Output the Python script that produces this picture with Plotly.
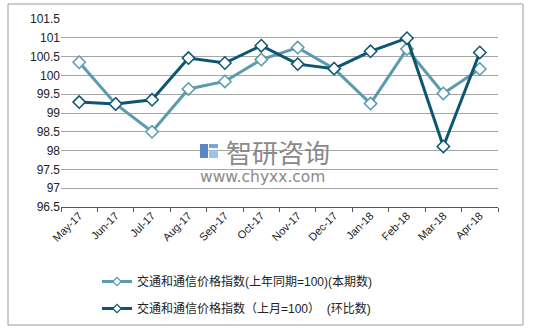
import plotly.graph_objects as go

months = ["May-17", "Jun-17", "Jul-17", "Aug-17", "Sep-17", "Oct-17",
          "Nov-17", "Dec-17", "Jan-18", "Feb-18", "Mar-18", "Apr-18"]
yoy_index = [100.35, 99.24, 98.50, 99.64, 99.84, 100.42,
             100.74, 100.18, 99.25, 100.70, 99.52, 100.17]
mom_index = [99.29, 99.24, 99.35, 100.46, 100.33, 100.79,
             100.30, 100.18, 100.64, 100.99, 98.11, 100.61]
yoy_name = "交通和通信价格指数(上年同期=100)(本期数)"
mom_name = "交通和通信价格指数（上月=100）  (环比数)"
y_ticks = [96.5, 97, 97.5, 98, 98.5, 99, 99.5, 100, 100.5, 101, 101.5]

LIGHT = "#5b9aaf"
DARK = "#0c5670"
FONT = "Liberation Sans, Noto Sans CJK SC, sans-serif"

fig = go.Figure()
for vals, name, color in [(yoy_index, yoy_name, LIGHT), (mom_index, mom_name, DARK)]:
    fig.add_trace(go.Scatter(
        x=months, y=vals, name=name, mode="lines+markers", showlegend=False,
        line=dict(color=color, width=3),
        marker=dict(symbol="diamond", size=9.5, color="white",
                    line=dict(color=color, width=1.5)),
    ))
    # legend entry with a smaller marker
    fig.add_trace(go.Scatter(
        x=[None], y=[None], name=name, mode="lines+markers", legendgroup=name,
        line=dict(color=color, width=3),
        marker=dict(symbol="diamond", size=6.5, color="white",
                    line=dict(color=color, width=1.2)),
    ))


def px_x(v):
    return (v - 61) / 437


def px_y(v):
    return (207 - v) / 188


# watermark
fig.add_annotation(text="智研咨询", xref="paper", yref="paper",
                   x=px_x(224), y=px_y(151), xanchor="left",
                   yanchor="middle", showarrow=False,
                   font=dict(family="Noto Sans CJK SC", size=26, color="#8a8a8a"))
fig.add_annotation(text="www.chyxx.com", xref="paper", yref="paper",
                   x=px_x(198), y=px_y(177), xanchor="left",
                   yanchor="middle", showarrow=False,
                   font=dict(family="DejaVu Sans", size=15.5, color="#8a8a8a"))

shapes = [
    # outer frame
    dict(type="rect", xref="paper", yref="paper",
         x0=px_x(8), x1=px_x(523), y0=px_y(325), y1=px_y(4),
         line=dict(color="#9a9a9a", width=1), fillcolor="rgba(0,0,0,0)"),
    # logo blocks
    dict(type="rect", xref="paper", yref="paper",
         x0=px_x(200), x1=px_x(208), y0=px_y(158), y1=px_y(144),
         line=dict(width=0), fillcolor="#5b86c4"),
    dict(type="rect", xref="paper", yref="paper",
         x0=px_x(209), x1=px_x(218), y0=px_y(158), y1=px_y(150),
         line=dict(width=0), fillcolor="#9ec3e6"),
    dict(type="rect", xref="paper", yref="paper",
         x0=px_x(209), x1=px_x(218), y0=px_y(148), y1=px_y(144),
         line=dict(width=0), fillcolor="#7aa6d8"),
]

fig.update_layout(
    width=533, height=330,
    margin=dict(l=61, r=35, t=19, b=123, autoexpand=False),
    paper_bgcolor="white", plot_bgcolor="white",
    font=dict(family=FONT, size=11, color="#222"),
    showlegend=True,
    legend=dict(x=px_x(97), y=px_y(267), xanchor="left", yanchor="top",
                orientation="v", font=dict(family=FONT, size=12, color="#222"),
                tracegroupgap=8, itemwidth=30, bgcolor="rgba(0,0,0,0)"),
    shapes=shapes,
    xaxis=dict(type="category", tickangle=-45, showgrid=False,
               showline=True, linecolor="#555", linewidth=1,
               ticks="outside", tickson="boundaries", ticklen=4,
               tickcolor="#555", tickfont=dict(size=11),
               ticklabelstandoff=-3,
               range=[-0.5, 11.5], fixedrange=True),
    yaxis=dict(range=[96.5, 101.5], tickvals=y_ticks,
               ticktext=[f"{v:g}" for v in y_ticks],
               showgrid=True, gridcolor="#a6a6a6", gridwidth=1,
               zeroline=False, showline=False, tickfont=dict(size=12),
               ticks="", fixedrange=True),
)

fig.write_html("out.html")
